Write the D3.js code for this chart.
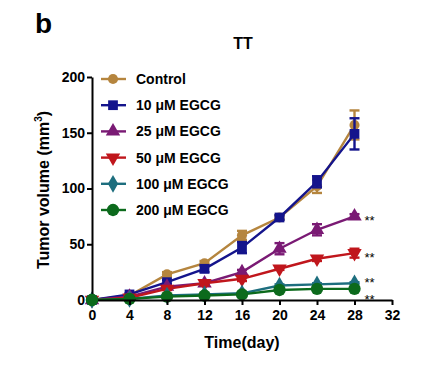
<!DOCTYPE html>
<html>
<head>
<meta charset="utf-8">
<script src="https://cdn.jsdelivr.net/npm/d3@7"></script>
<style>
  body { margin: 0; background: #fff; }
  svg { font-family: "Liberation Sans", Arial, sans-serif; }
</style>
</head>
<body>
<svg class="chart" width="448" height="370"></svg>
<script>
let days = [0, 4, 8, 12, 16, 20, 24, 28]

let names = ["Control", "10 μM EGCG", "25 μM EGCG", "50 μM EGCG", "100 μM EGCG", "200 μM EGCG"]
let colors = ["#b5853e", "#14148c", "#7a1a74", "#c0161c", "#1d6e7e", "#0c6a1c"]
let shapes = [d3.symbolCircle, d3.symbolSquare, d3.symbolTriangle, "down", d3.symbolDiamond, d3.symbolCircle]

let control = [0, 4, 23, 33, 58, 74, 102, 157]
let egcg10 = [0, 5, 16, 28, 47, 74, 106, 149]
let egcg25 = [0, 3, 12, 15, 25, 46, 63, 75]
let egcg50 = [0, 2, 10, 15, 19, 28, 37, 42]
let egcg100 = [0, 1, 4, 5, 6, 13, 14, 15]
let egcg200 = [0, 1, 3, 4, 5, 9, 10, 10]

let errControl = [0, 1, 2, 2, 4, 2, 6, 13]
let err10 = [0, 1, 2, 3, 5, 2, 5, 14]
let err25 = [0, 1, 1, 2, 2, 5, 5, 2]
let err50 = [0, 0, 1, 2, 2, 1, 2, 4]
let err100 = [0, 0, 1, 1, 1, 1, 1, 1]
let err200 = [0, 0, 1, 1, 1, 1, 1, 1]

let stars = ["", "", "**", "**", "**", "**"]

let yTicks = [0, 50, 100, 150, 200]
let xTicks = [0, 4, 8, 12, 16, 20, 24, 28, 32]

let series = [control, egcg10, egcg25, egcg50, egcg100, egcg200]
let errs = [errControl, err10, err25, err50, err100, err200]

let x = d3.scaleLinear().domain([0, 32]).range([92, 392])
let y = d3.scaleLinear().domain([0, 200]).range([300, 77])

let svg = d3.select(".chart")

svg.append("text")
    .attr("x", 35).attr("y", 33)
    .attr("font-size", 28).attr("font-weight", "bold")
    .text("b")

svg.append("text")
    .attr("x", 243).attr("y", 49)
    .attr("text-anchor", "middle")
    .attr("font-size", 16).attr("font-weight", "bold")
    .text("TT")

function marker(shape, size) {
  if (shape === "down") {
    return d3.symbol().type(d3.symbolTriangle).size(size)()
  }
  return d3.symbol().type(shape).size(size)()
}

let sizes = [80, 95, 90, 90, 90, 120]

let line = d3.line()
  .x(function(d) { return x(d.day) })
  .y(function(d) { return y(d.v) })

// star offsets so the two bottom labels don't sit on each other
let starDy = [0, 0, 0, 0, -5, 6]

series.forEach(function(s, i) {
  let data = days.map(function(d, j) { return { day: d, v: s[j], e: errs[i][j] } })
  let g = svg.append("g")

  g.append("path")
      .attr("d", line(data))
      .attr("fill", "none")
      .attr("stroke", colors[i])
      .attr("stroke-width", 2.4)

  data.forEach(function(d) {
    if (d.e > 0) {
      g.append("line")
          .attr("x1", x(d.day)).attr("x2", x(d.day))
          .attr("y1", y(d.v + d.e)).attr("y2", y(d.v - d.e))
          .attr("stroke", colors[i]).attr("stroke-width", 2.4)
      ;[d.v + d.e, d.v - d.e].forEach(function(v) {
        g.append("line")
            .attr("x1", x(d.day) - 5).attr("x2", x(d.day) + 5)
            .attr("y1", y(v)).attr("y2", y(v))
            .attr("stroke", colors[i]).attr("stroke-width", 2.4)
      })
    }
  })

  g.selectAll("path.pt")
    .data(data)
    .enter().append("path")
      .attr("class", "pt")
      .attr("d", marker(shapes[i], sizes[i]))
      .attr("transform", function(d) {
        return "translate(" + x(d.day) + "," + y(d.v) + ")" + (shapes[i] === "down" ? " rotate(180)" : "")
      })
      .attr("fill", colors[i])

  if (stars[i]) {
    svg.append("text")
        .attr("x", x(28) + 10).attr("y", y(s[7]) + 9 + starDy[i])
        .attr("font-size", 13)
        .text(stars[i])
  }
})

// axes
let yAxis = svg.append("g")
    .attr("transform", "translate(" + x(0) + ",0)")
    .call(d3.axisLeft(y).tickValues(yTicks).tickSize(5).tickPadding(2).tickSizeOuter(0))

let xAxis = svg.append("g")
    .attr("transform", "translate(0," + y(0) + ")")
    .call(d3.axisBottom(x).tickValues(xTicks).tickSize(5).tickPadding(5).tickSizeOuter(0))

;[yAxis, xAxis].forEach(function(a) {
  a.select(".domain").attr("stroke", "#000").attr("stroke-width", 2)
  a.selectAll(".tick line").attr("stroke", "#000").attr("stroke-width", 2)
  a.selectAll("text")
      .attr("font-size", 14).attr("font-weight", "bold")
      .attr("font-family", "Liberation Sans, Arial, sans-serif")
      .attr("fill", "#000")
})

// zero marker on top of the axes corner
svg.append("path")
    .attr("d", marker(d3.symbolCircle, 120))
    .attr("transform", "translate(" + x(0) + "," + y(0) + ")")
    .attr("fill", colors[5])

svg.append("text")
    .attr("x", 242).attr("y", 348)
    .attr("text-anchor", "middle")
    .attr("font-size", 16).attr("font-weight", "bold")
    .text("Time(day)")

let yl = svg.append("text")
    .attr("transform", "translate(49,190) rotate(-90)")
    .attr("text-anchor", "middle")
    .attr("font-size", 16).attr("font-weight", "bold")
yl.append("tspan").text("Tumor volume (mm")
yl.append("tspan").attr("font-size", 10).attr("dy", -7).text("3")
yl.append("tspan").attr("dy", 7).text(")")

// legend
let legend = svg.append("g")
names.forEach(function(n, i) {
  let ly = 79 + i * 26.2
  legend.append("line")
      .attr("x1", 101).attr("x2", 126)
      .attr("y1", ly).attr("y2", ly)
      .attr("stroke", colors[i]).attr("stroke-width", 2.4)
  legend.append("path")
      .attr("d", marker(shapes[i], sizes[i]))
      .attr("transform", "translate(113," + ly + ")" + (shapes[i] === "down" ? " rotate(180)" : ""))
      .attr("fill", colors[i])
  legend.append("text")
      .attr("x", 136).attr("y", ly + 5)
      .attr("font-size", 14).attr("font-weight", "bold")
      .text(n)
})
</script>
</body>
</html>
